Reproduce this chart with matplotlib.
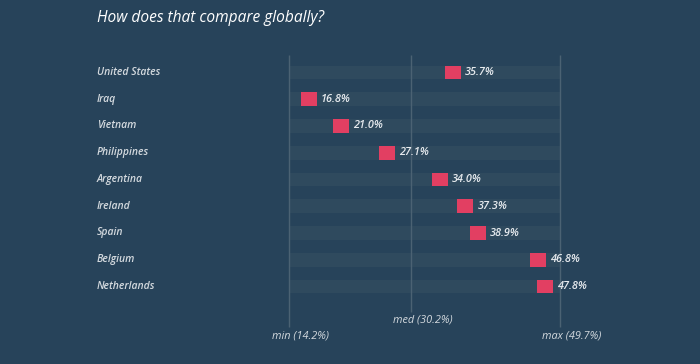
import matplotlib.pyplot as plt
import matplotlib.transforms as mtransforms
import numpy as np

countries = ['United States', 'Iraq', 'Vietnam', 'Philippines', 'Argentina',
             'Ireland', 'Spain', 'Belgium', 'Netherlands']
values = [35.7, 16.8, 21.0, 27.1, 34.0, 37.3, 38.9, 46.8, 47.8]
vmin, vmed, vmax = 14.2, 30.2, 49.7

bg = '#27435a'
band = '#2f4a5e'
red = '#e23f62'
txt = '#d3d9de'
line = '#4b6273'

W, H = 700, 364
fig = plt.figure(figsize=(7, 3.64), dpi=100, facecolor=bg)
ax = fig.add_axes([0, 0, 1, 1])
ax.set_facecolor(bg)
ax.axis('off')

# pixel mapping: vmin -> 289px, vmax -> 560px ; row 0 at 72px, step 26.75px
sx = (560 - 289) / (vmax - vmin)
ax.set_xlim(vmin - 289 / sx, vmin + (W - 289) / sx)
row0, step = 72.5, 26.75
ax.set_ylim((H - row0) / step, -row0 / step)

def py(p):
    return (p - row0) / step

rows = np.arange(len(countries))
ax.barh(rows, vmax - vmin, left=vmin, height=0.52, color=band, zorder=1)

ax.vlines([vmin, vmax], py(55), py(327), color=line, lw=1, zorder=2)
ax.vlines(vmed, py(55), py(312), color=line, lw=1, zorder=2)

bw = 16 / sx
ax.barh(rows, bw, left=np.array(values) - bw / 2, height=0.52, color=red, zorder=3)
for r, v in zip(rows, values):
    ax.text(v + bw / 2 + 4 / sx, r, f'{v:.1f}%', color='#e6eaee', fontsize=7.8,
            fontweight='semibold', style='italic', family='Open Sans',
            va='center', ha='left', zorder=4)

trans = mtransforms.blended_transform_factory(fig.transFigure, ax.transData)
for r, c in zip(rows, countries):
    ax.text(97 / W, r, c, transform=trans, color=txt, fontsize=7.5,
            fontweight='semibold', style='italic', family='Open Sans',
            va='center', ha='left')

off = 12 / sx
ax.text(vmin + off, py(336), f'min ({vmin}%)', color=txt, fontsize=7.8, style='italic',
        family='Open Sans', ha='center', va='center')
ax.text(vmed + off, py(320), f'med ({vmed}%)', color=txt, fontsize=7.8, style='italic',
        family='Open Sans', ha='center', va='center')
ax.text(vmax + off, py(336), f'max ({vmax}%)', color=txt, fontsize=7.8, style='italic',
        family='Open Sans', ha='center', va='center')

fig.text(97 / W, 1 - 18 / H, 'How does that compare globally?', color='white',
         fontsize=11.2, style='italic', family='Open Sans', ha='left', va='center')

fig.savefig('out.png', dpi=100, facecolor=bg)
